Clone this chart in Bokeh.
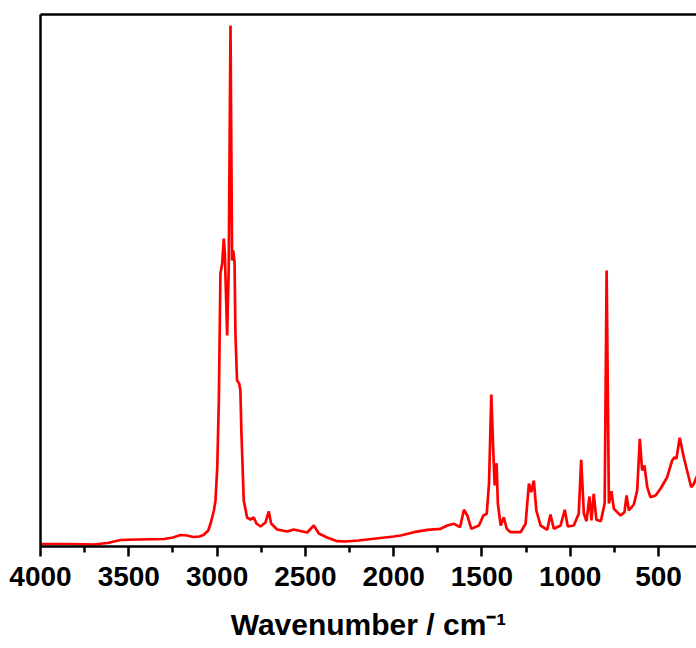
from bokeh.plotting import figure
from bokeh.models import Range1d, LinearAxis, FixedTicker
from bokeh.embed import file_html
from bokeh.resources import INLINE

# Raman spectrum (wavenumber in cm^-1, intensity in a.u.)
wavenumber = [4000, 3830, 3700, 3620, 3547, 3450, 3300, 3250, 3207, 3170, 3134, 3100,
              3077, 3050, 3035, 3018, 3009, 2999, 2990, 2981, 2971, 2962, 2956, 2943,
              2934, 2924, 2915, 2909, 2901, 2896, 2887, 2875, 2868, 2862, 2849, 2830,
              2811, 2792, 2777, 2754, 2726, 2707, 2694, 2660, 2603, 2566, 2490, 2452,
              2424, 2377, 2320, 2275, 2200, 2100, 2000, 1960, 1885, 1810, 1734, 1696,
              1658, 1624, 1602, 1583, 1560, 1517, 1492, 1473, 1460, 1447, 1436, 1428,
              1417, 1410, 1394, 1376, 1360, 1338, 1281, 1253, 1234, 1221, 1206, 1192,
              1168, 1130, 1112, 1093, 1055, 1031, 1014, 980, 952, 938, 923, 908,
              891, 880, 867, 852, 827, 805, 794, 781, 767, 753, 715, 693,
              681, 668, 640, 621, 606, 593, 580, 564, 546, 517, 489, 451,
              423, 410, 399, 380, 357, 329, 315, 300, 285, 270]
intensity = [2.5, 2.5, 2, 3.5, 6.5, 7, 7.5, 9, 11.5, 11, 9.5, 10,
             11.5, 16, 24, 36, 46, 79, 146, 273, 283, 308, 293, 211,
             279, 521, 286, 296, 284, 213, 166, 163, 156, 113, 46, 29,
             27, 29, 23, 20, 24, 35, 23, 17, 15, 17, 14, 21,
             13, 9, 5.3, 5, 6, 8, 10, 11, 14.3, 16.7, 17.7, 21,
             22.7, 19.3, 36.7, 31, 17.7, 21, 31, 32.7, 63, 152, 96, 61,
             83.3, 43, 21, 29.3, 17.7, 14.3, 14.3, 22.7, 63, 54.3, 66, 36,
             21, 16.7, 32, 17.7, 21, 36.7, 20, 21, 32.7, 86.7, 33, 25.3,
             50, 26, 52.7, 26.7, 25.3, 43, 276, 43, 55.3, 37.7, 31, 34.3,
             51, 36, 42, 56, 107.7, 76, 81, 59.3, 49.3, 51, 57.7, 69.3,
             86, 89.3, 87.7, 108.7, 89.3, 69.3, 59.3, 62.7, 69.3, 72]

major_ticks = [4000, 3500, 3000, 2500, 2000, 1500, 1000, 500]
minor_ticks = [3750, 3250, 2750, 2250, 1750, 1250, 750, 250]
x_title = "Wavenumber / cm\u207b\u00b9"

FONT = "Liberation Sans"

p = figure(width=696, height=648, output_backend="svg", toolbar_location=None,
           x_range=Range1d(4000, 285), y_range=Range1d(0, 532),
           min_border_left=40, min_border_right=0, min_border_top=14,
           min_border_bottom=102)
p.outline_line_color = None
p.xgrid.visible = False
p.ygrid.visible = False
p.background_fill_color = "white"
p.border_fill_color = "white"

p.line(wavenumber, intensity, line_color="#FF0000", line_width=2.7)

xa = p.xaxis[0]
xa.ticker = FixedTicker(ticks=major_ticks, minor_ticks=minor_ticks)
xa.axis_line_width = 2.5
xa.axis_line_color = "black"
xa.major_tick_line_width = 2.5
xa.minor_tick_line_width = 2.5
xa.major_tick_in = 0
xa.minor_tick_in = 0
xa.major_tick_out = 10
xa.minor_tick_out = 6
xa.major_label_standoff = 10
xa.major_label_text_font = FONT
xa.major_label_text_font_style = "bold"
xa.major_label_text_font_size = "28px"
xa.major_label_text_color = "black"
xa.axis_label = x_title
xa.axis_label_text_font = FONT
xa.axis_label_text_font_style = "bold"
xa.axis_label_text_font_size = "30px"
xa.axis_label_text_color = "black"
xa.axis_label_standoff = 19

def plain_axis(ax):
    ax.ticker = FixedTicker(ticks=[], minor_ticks=[])
    ax.axis_line_width = 2.5
    ax.axis_line_color = "black"
    ax.major_tick_out = 0
    ax.minor_tick_out = 0
    ax.major_tick_in = 0
    ax.minor_tick_in = 0

plain_axis(p.yaxis[0])
top = LinearAxis()
plain_axis(top)
p.add_layout(top, "above")

open("out.html", "w").write(file_html(p, INLINE))
